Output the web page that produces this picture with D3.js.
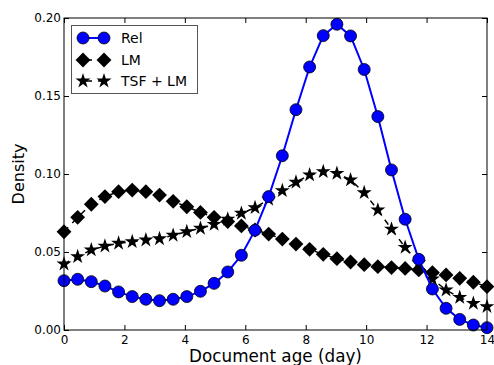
<!DOCTYPE html>
<html><head><meta charset="utf-8">
<script src="https://cdn.jsdelivr.net/npm/d3@7"></script>
<style>body{margin:0;background:#fff}svg{display:block}text{font-family:"DejaVu Sans",sans-serif}</style>
</head><body><svg id="c" width="494" height="365"></svg>
<script>
const xTicks=[0,2,4,6,8,10,12,14];
const yTicks=[0,0.05,0.10,0.15,0.20];
const seriesNames=["Rel","LM","TSF + LM"];
const relValues=[0.0316,0.0325,0.031,0.0282,0.0244,0.0214,0.0197,0.0188,0.0197,0.0214,0.0248,0.0299,0.0372,0.0479,0.064,0.0855,0.1117,0.1412,0.1686,0.1887,0.196,0.1885,0.167,0.1368,0.1026,0.071,0.0453,0.0263,0.0139,0.0068,0.0032,0.0015];
const lmValues=[0.063,0.0722,0.0806,0.0855,0.0887,0.0897,0.0887,0.0865,0.0825,0.079,0.0754,0.0722,0.0695,0.0667,0.0641,0.0615,0.0583,0.0551,0.0517,0.0485,0.0457,0.0436,0.0419,0.0406,0.04,0.0395,0.0385,0.0368,0.0353,0.0331,0.0306,0.0278];
const tsfValues=[0.0423,0.047,0.0513,0.0538,0.0556,0.0566,0.0577,0.0585,0.0607,0.063,0.0652,0.0677,0.071,0.0748,0.0784,0.0838,0.0893,0.0947,0.0994,0.1015,0.1004,0.0962,0.088,0.0769,0.0647,0.053,0.0431,0.0327,0.0256,0.0209,0.0171,0.015];
const nPts=relValues.length;
const xVals=d3.range(nPts).map(i=>i*14/(nPts-1));

const svg=d3.select("#c");
const L=64,R=487,T=18,B=330;
const x=d3.scaleLinear().domain([0,14]).range([L,R]);
const y=d3.scaleLinear().domain([0,0.2]).range([B,T]);

const fmtY=d3.format(".2f");
svg.append("g").attr("transform",`translate(0,${B})`)
  .call(d3.axisBottom(x).tickValues(xTicks).tickSize(-5).tickPadding(5).tickFormat(d3.format("d")))
  .call(g=>{g.select(".domain").remove();g.selectAll("text").attr("font-size",12).attr("fill","#000").attr("font-family","DejaVu Sans");});
svg.append("g").attr("transform",`translate(0,${T})`)
  .call(d3.axisTop(x).tickValues(xTicks).tickSize(-5).tickFormat(""))
  .call(g=>g.select(".domain").remove());
svg.append("g").attr("transform",`translate(${L},0)`)
  .call(d3.axisLeft(y).tickValues(yTicks).tickSize(-5).tickPadding(3).tickFormat(fmtY))
  .call(g=>{g.select(".domain").remove();g.selectAll("text").attr("font-size",12).attr("fill","#000").attr("font-family","DejaVu Sans");});
svg.append("g").attr("transform",`translate(${R},0)`)
  .call(d3.axisRight(y).tickValues(yTicks).tickSize(-5).tickFormat(""))
  .call(g=>g.select(".domain").remove());

const plotG=svg.append("g");
const line=d3.line().x((d,i)=>x(xVals[i])).y(d=>y(d));

// LM
plotG.append("path").datum(lmValues).attr("d",line).attr("fill","none").attr("stroke","#000").attr("stroke-width",1.5).attr("stroke-dasharray","6,6");
plotG.selectAll(".lm").data(lmValues).join("path").attr("transform",(d,i)=>`translate(${x(xVals[i])},${y(d)}) rotate(45)`)
  .attr("d",d3.symbol().type(d3.symbolSquare).size(110)).attr("fill","#000");
// TSF
plotG.append("path").datum(tsfValues).attr("d",line).attr("fill","none").attr("stroke","#000").attr("stroke-width",1.5).attr("stroke-dasharray","6,6");
plotG.selectAll(".tsf").data(tsfValues).join("path").attr("transform",(d,i)=>`translate(${x(xVals[i])},${y(d)})`)
  .attr("d",d3.symbol().type(d3.symbolStar).size(70)).attr("fill","#000");
// Rel
plotG.append("path").datum(relValues).attr("d",line).attr("fill","none").attr("stroke","#0000ff").attr("stroke-width",2);
plotG.selectAll(".rel").data(relValues).join("circle").attr("cx",(d,i)=>x(xVals[i])).attr("cy",d=>y(d)).attr("r",6)
  .attr("fill","#0000ff").attr("stroke","#000").attr("stroke-width",0.8);

svg.append("rect").attr("x",L).attr("y",T).attr("width",R-L).attr("height",B-T).attr("fill","none").attr("stroke","#000").attr("stroke-width",1);

// legend
const lg=svg.append("g");
lg.append("rect").attr("x",71.5).attr("y",25.5).attr("width",126).attr("height",68).attr("fill","#fff").attr("stroke","#555").attr("stroke-width",1);
const rows=[38,60,81];
const lx1=83,lx2=104;
lg.append("line").attr("x1",lx1).attr("x2",lx2).attr("y1",rows[0]).attr("y2",rows[0]).attr("stroke","#0000ff").attr("stroke-width",2);
[lx1,lx2].forEach(px=>lg.append("circle").attr("cx",px).attr("cy",rows[0]).attr("r",6).attr("fill","#0000ff").attr("stroke","#000").attr("stroke-width",0.8));
lg.append("line").attr("x1",lx1).attr("x2",lx2).attr("y1",rows[1]).attr("y2",rows[1]).attr("stroke","#000").attr("stroke-width",1.5).attr("stroke-dasharray","6,6").attr("stroke-dashoffset",-3);
[lx1,lx2].forEach(px=>lg.append("path").attr("transform",`translate(${px},${rows[1]}) rotate(45)`).attr("d",d3.symbol().type(d3.symbolSquare).size(110)).attr("fill","#000"));
lg.append("line").attr("x1",lx1).attr("x2",lx2).attr("y1",rows[2]).attr("y2",rows[2]).attr("stroke","#000").attr("stroke-width",1.5).attr("stroke-dasharray","6,6").attr("stroke-dashoffset",-3);
[lx1,lx2].forEach(px=>lg.append("path").attr("transform",`translate(${px},${rows[2]})`).attr("d",d3.symbol().type(d3.symbolStar).size(70)).attr("fill","#000"));
seriesNames.forEach((s,i)=>lg.append("text").attr("x",121).attr("y",rows[i]).attr("dy","0.35em").attr("font-size",14).text(s));

svg.append("text").attr("x",(L+R)/2).attr("y",362).attr("text-anchor","middle").attr("font-size",16.8).text("Document age (day)");
svg.append("text").attr("transform",`translate(24,${(T+B)/2}) rotate(-90)`).attr("text-anchor","middle").attr("font-size",16).text("Density");
</script></body></html>
